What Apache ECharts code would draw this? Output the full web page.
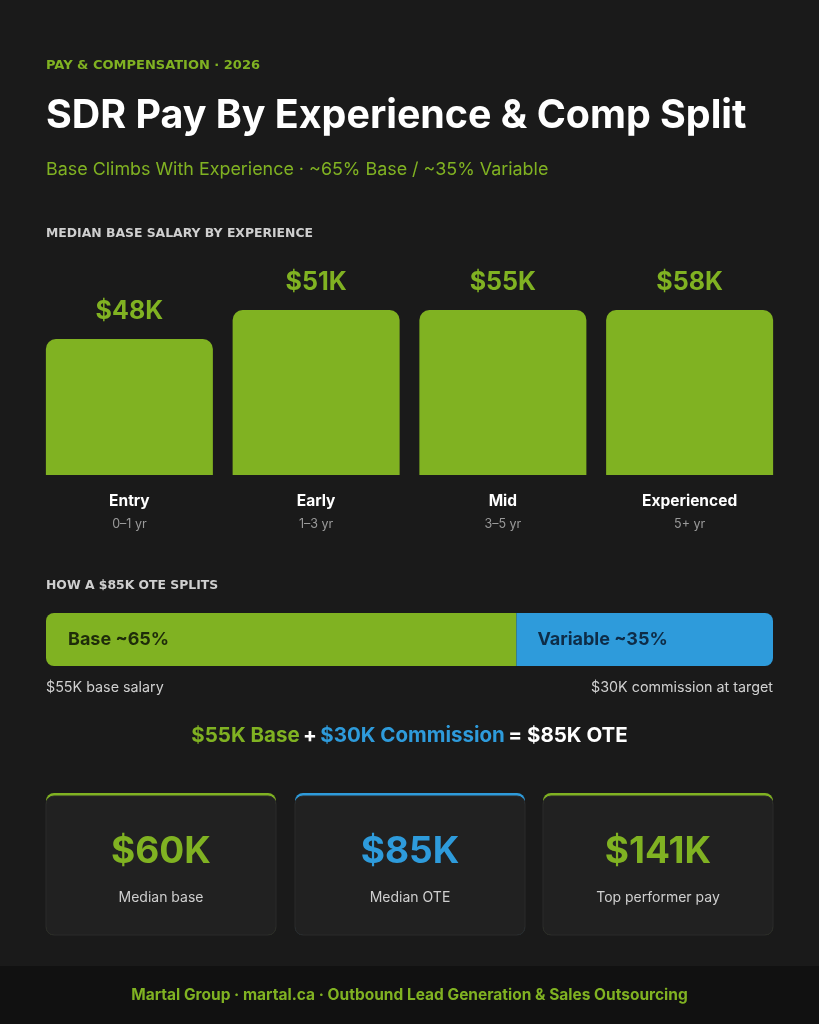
<!DOCTYPE html>
<html>
<head>
<meta charset="utf-8">
<title>SDR Pay By Experience & Comp Split</title>
<script src="https://cdn.jsdelivr.net/npm/echarts@6/dist/echarts.min.js"></script>
<style>
  html, body { margin: 0; padding: 0; background: #1a1a1a; }
  #chart { width: 819px; height: 1024px; }
</style>
</head>
<body>
<div id="chart"></div>
<script>
// ---- data ----
var levels = ['Entry', 'Early', 'Mid', 'Experienced'];
var years = ['0–1 yr', '1–3 yr', '3–5 yr', '5+ yr'];
var medianBase = [48, 51, 55, 58];          // $K
var barCap = 51;                            // bars above this are drawn at full height
var oteBase = 55, oteCommission = 30;       // $K
var cardValues = ['$60K', '$85K', '$141K'];
var cardLabels = ['Median base', 'Median OTE', 'Top performer pay'];

var GREEN = '#80b222', BLUE = '#2e9bdb', FONT = 'Inter, "Noto Sans", sans-serif';
var CAPS = '"DejaVu Sans", sans-serif';

var chart = echarts.init(document.getElementById('chart'));
var ote = oteBase + oteCommission;
var basePct = Math.round(oteBase / ote * 100), varPct = 100 - basePct;

// cards
var cardX = [46, 295, 543], cardW = 230, cardTop = 793, cardH = 142;
var cardColors = [GREEN, BLUE, GREEN];
var cards = [];
cardX.forEach(function (x, i) {
    cards.push({ type: 'rect', shape: { x: x, y: cardTop, width: cardW, height: cardH, r: 8 }, style: { fill: cardColors[i] } });
    cards.push({ type: 'rect', shape: { x: x, y: cardTop + 3, width: cardW, height: cardH - 3, r: 8 }, style: { fill: '#212121', stroke: '#2a2a2a', lineWidth: 1 } });
    cards.push({ type: 'text', x: x + cardW / 2, y: 852, style: { text: cardValues[i], fill: cardColors[i], font: 'bold 37px ' + FONT, align: 'center', verticalAlign: 'middle' } });
    cards.push({ type: 'text', x: x + cardW / 2, y: 898, style: { text: cardLabels[i], fill: '#cfcfcf', font: '14px ' + FONT, align: 'center', verticalAlign: 'middle' } });
});

var option = {
    backgroundColor: '#1a1a1a',
    animation: false,
    textStyle: { fontFamily: FONT },
    graphic: [
        { type: 'rect', shape: { x: 0, y: 966, width: 819, height: 58 }, style: { fill: '#111111' } },
        { type: 'text', x: 46, y: 66, style: { text: 'PAY & COMPENSATION · 2026', fill: GREEN, font: 'bold 13px ' + CAPS, verticalAlign: 'middle' } },
        { type: 'text', x: 46, y: 116, style: { text: 'SDR Pay By Experience & Comp Split', fill: '#ffffff', font: 'bold 39.4px ' + FONT, verticalAlign: 'middle' } },
        { type: 'text', x: 46, y: 170, style: { text: 'Base Climbs With Experience · ~65% Base / ~35% Variable', fill: GREEN, font: '17.9px ' + FONT, verticalAlign: 'middle' } },
        { type: 'text', x: 46, y: 234, style: { text: 'MEDIAN BASE SALARY BY EXPERIENCE', fill: '#cfcfcf', font: 'bold 12.4px ' + CAPS, verticalAlign: 'middle' } },
        { type: 'text', x: 46, y: 586, style: { text: 'HOW A $85K OTE SPLITS', fill: '#cfcfcf', font: 'bold 12.4px ' + CAPS, verticalAlign: 'middle' } },
        { type: 'text', x: 46, y: 688, style: { text: '$' + oteBase + 'K base salary', fill: '#d0d0d0', font: '14.3px ' + FONT, verticalAlign: 'middle' } },
        { type: 'text', x: 773, y: 688, style: { text: '$' + oteCommission + 'K commission at target', fill: '#d0d0d0', font: '14.3px ' + FONT, align: 'right', verticalAlign: 'middle' } },
        {
            type: 'text', x: 409.5, y: 736,
            style: {
                text: '{g|$' + oteBase + 'K Base} {w|+} {b|$' + oteCommission + 'K Commission} {w|= $' + ote + 'K OTE}',
                align: 'center', verticalAlign: 'middle',
                rich: {
                    g: { fill: GREEN, font: 'bold 20.5px ' + FONT },
                    b: { fill: BLUE, font: 'bold 20.5px ' + FONT },
                    w: { fill: '#ffffff', font: 'bold 20.5px ' + FONT }
                }
            }
        },
        { type: 'text', x: 409.5, y: 995, style: { text: 'Martal Group · martal.ca · Outbound Lead Generation & Sales Outsourcing', fill: GREEN, font: 'bold 15.5px ' + FONT, align: 'center', verticalAlign: 'middle' } }
    ].concat(cards),
    grid: [
        { left: 36, right: 36, top: 310, height: 165 },
        { left: 46, right: 46, top: 613, height: 53 }
    ],
    xAxis: [
        {
            gridIndex: 0, type: 'category', data: levels,
            axisLine: { show: false }, axisTick: { show: false },
            axisLabel: {
                margin: 14,
                formatter: function (v, i) { return '{a|' + v + '}\n{b|' + years[i] + '}'; },
                rich: {
                    a: { color: '#ffffff', fontSize: 15.5, fontWeight: 'bold', lineHeight: 24, fontFamily: FONT },
                    b: { color: '#9a9a9a', fontSize: 12.5, lineHeight: 22, fontFamily: FONT }
                }
            }
        },
        { gridIndex: 1, type: 'value', min: 0, max: ote, show: false }
    ],
    yAxis: [
        { gridIndex: 0, type: 'value', min: 34, max: barCap, show: false },
        { gridIndex: 1, type: 'category', data: ['OTE'], show: false }
    ],
    series: [
        {
            type: 'bar', xAxisIndex: 0, yAxisIndex: 0, barWidth: 167,
            itemStyle: { color: GREEN, borderRadius: [10, 10, 0, 0] },
            label: {
                show: true, position: 'top', distance: 15,
                color: GREEN, fontSize: 25, fontWeight: 'bold', fontFamily: FONT,
                formatter: function (p) { return '$' + medianBase[p.dataIndex] + 'K'; }
            },
            data: medianBase.map(function (v) { return Math.min(v, barCap); })
        },
        {
            type: 'bar', xAxisIndex: 1, yAxisIndex: 1, stack: 'ote', barWidth: 53,
            itemStyle: { color: GREEN, borderRadius: [8, 0, 0, 8] },
            label: { show: true, position: 'insideLeft', distance: 22, color: '#1e2c0a', fontSize: 18, fontWeight: 'bold', fontFamily: FONT, formatter: 'Base ~' + basePct + '%' },
            data: [oteBase]
        },
        {
            type: 'bar', xAxisIndex: 1, yAxisIndex: 1, stack: 'ote', barWidth: 53,
            itemStyle: { color: BLUE, borderRadius: [0, 8, 8, 0] },
            label: { show: true, position: 'insideLeft', distance: 21, color: '#0e2c47', fontSize: 18, fontWeight: 'bold', fontFamily: FONT, formatter: 'Variable ~' + varPct + '%' },
            data: [oteCommission]
        }
    ]
};
chart.setOption(option);
</script>
</body>
</html>
